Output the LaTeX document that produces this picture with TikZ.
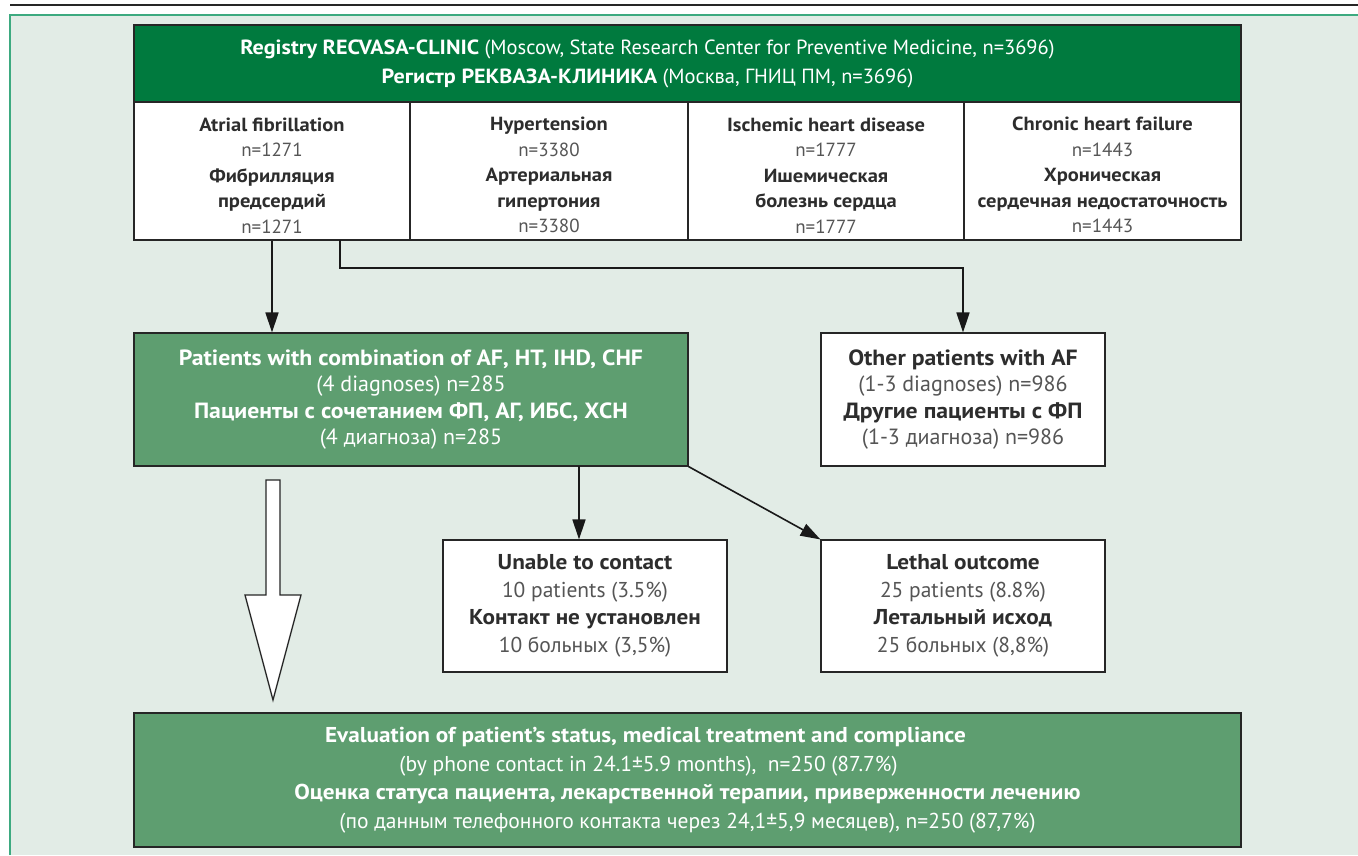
\documentclass[tikz,border=0pt]{standalone}
\usepackage{fontspec}
\setmainfont{PT Sans}[BoldFeatures={FakeStretch=1.08}]
\usetikzlibrary{arrows.meta,calc}
\definecolor{dgreen}{RGB}{0,122,62}
\definecolor{mgreen}{RGB}{94,158,112}
\definecolor{bgc}{RGB}{226,236,230}
\definecolor{edgec}{RGB}{61,170,128}
\definecolor{txt}{RGB}{45,45,45}
\definecolor{ltx}{RGB}{85,85,85}
\newcommand\bt[1]{{\bfseries #1}}
\newcommand\lgx[1]{{\color{ltx}#1}}
\newcommand\topstrut{\rule{0pt}{22pt}}
\newcommand\padr[1]{\rule{#1}{0pt}}
\begin{document}
\begin{tikzpicture}[x=1pt,y=-1pt,
  cell/.style={draw=black!85,line width=1.1pt,fill=white,align=center,inner sep=0pt,text=txt,
    font=\fontsize{19}{25.5}\selectfont},
  gbox/.style={draw=black!85,line width=1.1pt,fill=mgreen,align=center,inner sep=0pt,text=white,
    font=\fontsize{22}{26.5}\selectfont},
  arr/.style={line width=1.6pt,draw=black!90,-{Triangle[length=20pt,width=13pt]}},
  plain/.style={line width=1.6pt,draw=black!90}]
\useasboundingbox (0,0) rectangle (1358,855);
% background panel
\fill[bgc] (10,15) rectangle (1358,855);
\draw[edgec,line width=1.3pt] (10,855) -- (10,15) -- (1358,15);
\draw[black!85,line width=1.3pt] (10,5) -- (1358,5);
% header
\node[cell,fill=dgreen,text=white,minimum width=1107pt,minimum height=77pt,
  font=\fontsize{20.5}{29}\selectfont] (hdr) at (687.5,63.5)
  {\bt{Registry RECVASA-CLINIC} (Moscow, State Research Center for Preventive Medicine, n=3696)\padr{80pt}\\
   \bt{Регистр РЕКВАЗА-КЛИНИКА} (Москва, ГНИЦ ПМ, n=3696)\padr{80pt}};
% cells
\node[cell,minimum width=276pt,minimum height=138pt] (af) at (272,171)
  {\topstrut\bt{Atrial fibrillation}\\ \lgx{n=1271}\\ \bt{Фибрилляция}\\ \bt{предсердий}\\ \lgx{n=1271}};
\node[cell,minimum width=278pt,minimum height=138pt] (ht) at (549,171)
  {\topstrut\bt{Hypertension}\\ \lgx{n=3380}\\ \bt{Артериальная}\\ \bt{гипертония}\\ \lgx{n=3380}};
\node[cell,minimum width=276pt,minimum height=138pt] (ihd) at (826,171)
  {\topstrut\bt{Ischemic heart disease}\\ \lgx{n=1777}\\ \bt{Ишемическая}\\ \bt{болезнь сердца}\\ \lgx{n=1777}};
\node[cell,minimum width=277pt,minimum height=138pt] (chf) at (1102.5,171)
  {\topstrut\bt{Chronic heart failure}\\ \lgx{n=1443}\\ \bt{Хроническая}\\ \bt{сердечная недостаточность}\\ \lgx{n=1443}};
% middle row
\node[gbox,minimum width=554pt,minimum height=133pt] (comb) at (411,399.5)
  {\bt{Patients with combination of AF, HT, IHD, CHF}\\ (4 diagnoses) n=285\\
   \bt{Пациенты с сочетанием ФП, АГ, ИБС, ХСН}\\ (4 диагноза) n=285};
\node[cell,minimum width=284pt,minimum height=133pt,font=\fontsize{22}{26.5}\selectfont] (other) at (963,399.5)
  {\bt{Other patients with AF}\\ \lgx{(1-3 diagnoses) n=986}\\
   \bt{Другие пациенты с ФП}\\ \lgx{(1-3 диагноза) n=986}};
% third row
\node[cell,minimum width=284pt,minimum height=132pt,font=\fontsize{21.5}{27.5}\selectfont] (unable) at (585,606)
  {\bt{Unable to contact}\\ \lgx{10 patients (3.5\%)}\\
   \bt{Контакт не установлен}\\ \lgx{10 больных (3,5\%)}};
\node[cell,minimum width=284pt,minimum height=132pt,font=\fontsize{21.5}{27.5}\selectfont] (lethal) at (963,606)
  {\bt{Lethal outcome}\\ \lgx{25 patients (8.8\%)}\\
   \bt{Летальный исход}\\ \lgx{25 больных (8,8\%)}};
% bottom
\node[gbox,minimum width=1107pt,minimum height=134pt,font=\fontsize{21.5}{28.5}\selectfont] (eval) at (687.5,780)
  {\bt{Evaluation of patient’s status, medical treatment and compliance}\padr{84pt}\\
   (by phone contact in 24.1±5.9 months),\ \ n=250 (87.7\%)\padr{78pt}\\
   \bt{Оценка статуса пациента, лекарственной терапии, приверженности лечению}\\
   (по данным телефонного контакта через 24,1±5,9 месяцев), n=250 (87,7\%)};
% connectors
\draw[arr] (af.south) -- (af.south |- comb.north);
\coordinate (br) at (340,240);
\draw[arr] (br) -- ++(0,28) -| (other.north);
\coordinate (cs) at (579,466);
\draw[arr] (cs) -- (cs |- unable.north);
\draw[arr] (comb.south east) -- (lethal.north west);
% hollow arrow
\draw[line width=1.3pt,draw=black!85,fill=white,line join=miter]
  (266,480) -- (280,480) -- (280,595) -- (301,595) -- (273,700) -- (245,595) -- (266,595) -- cycle;
\end{tikzpicture}
\end{document}
